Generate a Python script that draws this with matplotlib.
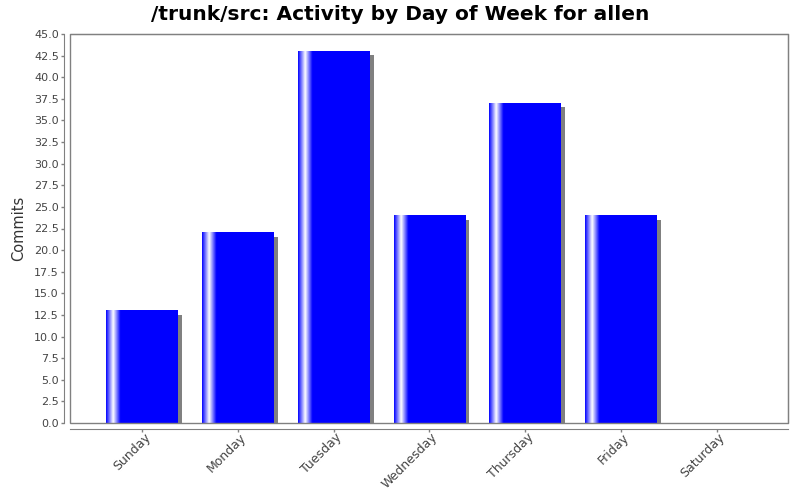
import numpy as np
import matplotlib
matplotlib.use('Agg')
import matplotlib.pyplot as plt
from matplotlib.patches import Rectangle
from matplotlib.transforms import offset_copy, ScaledTranslation

# data
days = ['Sunday', 'Monday', 'Tuesday', 'Wednesday', 'Thursday', 'Friday', 'Saturday']
commits = [13, 22, 43, 24, 37, 24, 0]
yticks = np.arange(0, 45.1, 2.5)

fig = plt.figure(figsize=(8, 5), dpi=100)
ax = fig.add_axes([70/800, 77/500, 718/800, 389/500])

# separate axis lines, plus the plot outline
# (spine position first: it resets the ticks)
for s in ['left', 'bottom']:
    ax.spines[s].set_position(('outward', 4))
    ax.spines[s].set_color('#808080')
for s in ['top', 'right']:
    ax.spines[s].set_color('#808080')
ax.add_patch(Rectangle((0, 0), 1, 1, transform=ax.transAxes, fill=False,
                       edgecolor='#808080', lw=1, clip_on=False, zorder=5))

# horizontal gradient like the java bar painter: blue -> white -> blue
n = 400
p = np.linspace(0, 1, n)
t = np.where(p < 0.1, p/0.1, np.where(p < 0.2, 1 - (p-0.1)/0.1, 0.0))
grad = np.zeros((1, n, 3))
grad[0, :, 0] = t
grad[0, :, 1] = t
grad[0, :, 2] = 1.0

w = 0.75
shadow_tr = offset_copy(ax.transData, fig=fig, x=4, y=-4, units='dots')
for i, v in enumerate(commits):
    if v <= 0:
        continue
    ax.add_patch(Rectangle((i - w/2, 0), w, v, transform=shadow_tr,
                           facecolor='#808080', edgecolor='none', zorder=1))
    ax.imshow(grad, extent=(i - w/2, i + w/2, 0, v), aspect='auto',
              interpolation='bilinear', zorder=2)

ax.set_xlim(-0.755, 6.745)
ax.set_ylim(0, 45)

ax.tick_params(axis='both', direction='out', length=2, color='#808080', width=1,
               labelsize=8, labelcolor='#444444')
ax.tick_params(axis='x', pad=3, labelsize=9)
ax.tick_params(axis='y', pad=2)

ax.set_xticks(range(len(days)))
ax.set_xticklabels(days)
ax.set_yticks(yticks)
ax.set_yticklabels(['%.1f' % y for y in yticks])

off = ScaledTranslation(6/100, 0, fig.dpi_scale_trans)
for lab in ax.get_xticklabels():
    lab.set_rotation(45)
    lab.set_ha('right')
    lab.set_va('center')
    lab.set_rotation_mode('anchor')
    lab.set_transform(lab.get_transform() + off)

ax.set_ylabel('Commits', fontsize=10.5, color='#333333', labelpad=6)
fig.suptitle('/trunk/src: Activity by Day of Week for allen', fontsize=14.5,
             fontweight='bold', y=0.99)

plt.savefig('out.png', dpi=100)
